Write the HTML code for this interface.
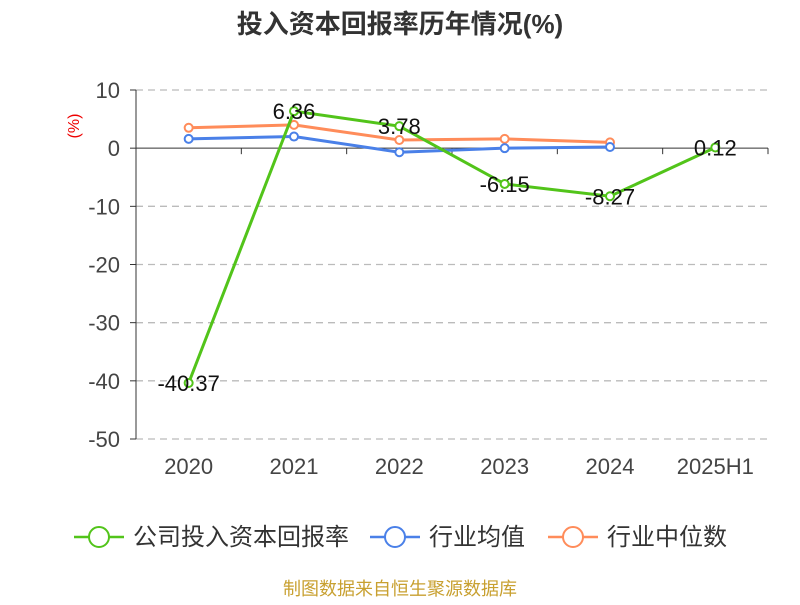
<!DOCTYPE html>
<html><head><meta charset="utf-8"><style>
body{margin:0;background:#fff;font-family:"Liberation Sans","Noto Sans CJK SC",sans-serif;}
</style></head><body>
<svg id="chart" width="800" height="600" xmlns="http://www.w3.org/2000/svg">
<text x="400" y="33" text-anchor="middle" font-size="26" font-weight="bold" fill="#333" font-family="Liberation Sans,Noto Sans CJK SC,sans-serif">投入资本回报率历年情况(%)</text>
<text x="79" y="126" text-anchor="middle" font-size="16" fill="#e00" transform="rotate(-90 79 126)">(%)</text>
<g id="grid"></g><g id="axes"></g><g id="series"></g>
<g font-size="24" fill="#333" font-family="Liberation Sans,Noto Sans CJK SC,sans-serif">
 <g><line x1="74" y1="537" x2="124" y2="537" stroke="#52c41a" stroke-width="2.5"/><circle cx="99" cy="537" r="10" fill="#fff" stroke="#52c41a" stroke-width="2"/><text x="133" y="545">公司投入资本回报率</text></g>
 <g><line x1="370" y1="537" x2="420" y2="537" stroke="#4a80e8" stroke-width="2.5"/><circle cx="395" cy="537" r="10" fill="#fff" stroke="#4a80e8" stroke-width="2"/><text x="429" y="545">行业均值</text></g>
 <g><line x1="548" y1="537" x2="598" y2="537" stroke="#ff8c5a" stroke-width="2.5"/><circle cx="573" cy="537" r="10" fill="#fff" stroke="#ff8c5a" stroke-width="2"/><text x="607" y="545">行业中位数</text></g>
</g>
<text x="400" y="595" text-anchor="middle" font-size="18" fill="#c8a030">制图数据来自恒生聚源数据库</text>
</svg>
<script>
const categories=["2020","2021","2022","2023","2024","2025H1"];
const companyValues=[-40.37,6.36,3.78,-6.15,-8.27,0.12];
const industryAvg=[1.6,2.0,-0.7,0.0,0.2];
const industryMedian=[3.5,4.0,1.4,1.6,1.0];
const yTicks=[10,0,-10,-20,-30,-40,-50];
const NS="http://www.w3.org/2000/svg";
const x0=136,x1=768,yTop=90,yBot=439,vMax=10,vMin=-50;
const bw=(x1-x0)/categories.length;
const xs=i=>x0+bw*(i+0.5);
const ys=v=>yTop+(vMax-v)/(vMax-vMin)*(yBot-yTop);
function mk(tag,attrs,parent){const e=document.createElementNS(NS,tag);for(const k in attrs)e.setAttribute(k,attrs[k]);parent.appendChild(e);return e;}
const grid=document.getElementById('grid'),axes=document.getElementById('axes'),ser=document.getElementById('series');
yTicks.forEach(t=>{
 const y=ys(t);
 if(t!==0){const l=mk('line',{x1:x0,x2:x1,y1:y,y2:y,stroke:'#bbb','stroke-dasharray':'7,5','stroke-width':1.3},grid);
 
 }
 const tx=mk('text',{x:x0-16,y:y+8,'text-anchor':'end','font-size':'22',fill:'#444'},axes);tx.textContent=t;
 
 
 mk('line',{x1:x0-6,x2:x0,y1:y,y2:y,stroke:'#333'},axes);
});
const ya=mk('line',{x1:x0,x2:x0,y1:yTop,y2:yBot,stroke:'#333'},axes);


const xa=mk('line',{x1:x0,x2:x1,y1:ys(0),y2:ys(0),stroke:'#333'},axes);


for(let i=0;i<=categories.length;i++)mk('line',{x1:x0+bw*i,x2:x0+bw*i,y1:ys(0),y2:ys(0)+6,stroke:'#333'},axes);
categories.forEach((c,i)=>{const t=mk('text',{x:xs(i),y:474,'text-anchor':'middle','font-size':'22',fill:'#444'},axes);t.textContent=c;
 
 });
function drawSeries(vals,color,name){
 const pts=vals.map((v,i)=>xs(i)+','+ys(v)).join(' ');
 const pl=mk('polyline',{points:pts,fill:'none',stroke:color,'stroke-width':3},ser);
 
 
 vals.forEach((v,i)=>{const c=mk('circle',{cx:xs(i),cy:ys(v),r:4,fill:'#fff',stroke:color,'stroke-width':2},ser);
 
 });
}
drawSeries(industryMedian,'#ff8c5a','industry-median');
drawSeries(industryAvg,'#4a80e8','industry-avg');
drawSeries(companyValues,'#52c41a','company');
companyValues.forEach((v,i)=>{const t=mk('text',{x:xs(i),y:ys(v)+8,'text-anchor':'middle','font-size':'22',fill:'#111'},ser);t.textContent=v.toFixed(2);
 
 });
</script>
</body></html>
